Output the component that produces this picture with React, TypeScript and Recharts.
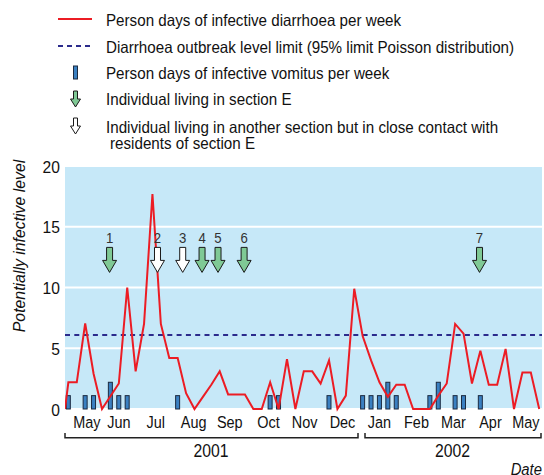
import React from "react";
import {
  ComposedChart, Line, Bar, Scatter, XAxis, YAxis,
  CartesianGrid, ReferenceLine,
} from "recharts";

// weekly values, week 0 = last week of April 2001
const diarrhoea = [
  2.2, 2.2, 7.05, 2.9, 0, 1.05, 2.1, 10, 3.1, 7,
  17.7, 7, 4.2, 4.2, 1.3, 0, 1, 2, 3.1, 1.2,
  1.2, 1.2, 0, 0, 2.2, 0, 4.1, 0, 3.1, 3.1,
  2.1, 4, 0, 1.1, 9.9, 6, 4, 2.2, 1, 2,
  2, 0, 0, 0, 1.1, 2.1, 7, 6.2, 2.1, 4.8,
  2, 2, 4.95, 0, 3, 3, 0,
];
const lineStart = { w: -0.4, d: 0 };

const vomitWeeks  = [0, 2, 3, 5, 6, 7, 13, 24, 25, 31, 35, 36, 37, 38, 39, 43, 44, 46, 47, 49];
const vomitValues = [1.1, 1.1, 1.1, 2.2, 1.1, 1.1, 1.1, 1.1, 1.1, 1.1, 1.1, 1.1, 1.1, 2.2, 1.1, 1.1, 2.2, 1.1, 1.1, 1.1];

const outbreakLimit = 6.1;

const arrowWeeks    = [4.9, 10.6, 13.6, 15.9, 17.8, 20.9, 48.9];
const arrowLabels   = ["1", "2", "3", "4", "5", "6", "7"];
const arrowSectionE = [true, false, false, true, true, true, true];

const monthWeeks  = [2.2, 6.0, 10.4, 14.9, 19.2, 23.8, 28.1, 32.6, 37.0, 41.4, 45.8, 50.2, 54.4];
const monthLabels = ["May", "Jun", "Jul", "Aug", "Sep", "Oct", "Nov", "Dec", "Jan", "Feb", "Mar", "Apr", "May"];

const yTicks = [0, 5, 10, 15, 20];

const FONT = '"Liberation Sans", Arial, sans-serif';
const RED = "#ec1c24";
const NAVY = "#2b2b8c";
const BAR_FILL = "#3a80c2";
const BAR_EDGE = "#1b2a40";
const GREEN = "#7fc995";

const rows = diarrhoea.map((d, i) => {
  const j = vomitWeeks.indexOf(i);
  return { w: i, d, v: j >= 0 ? vomitValues[j] : null };
});
const lineRows = [lineStart, ...rows];
const arrows = arrowWeeks.map((w, i) => ({
  w, y: 13.3, label: arrowLabels[i], green: arrowSectionE[i],
}));

// condensed text: Liberation Sans squeezed horizontally
function NText({ x, y, size = 16.5, sx = 0.92, anchor = "start", italic = false, rotate = 0, fill = "#111", children }: any) {
  const rot = rotate ? ` rotate(${rotate})` : "";
  return (
    <g transform={`translate(${x},${y})${rot} scale(${sx},1)`}>
      <text x={0} y={0} textAnchor={anchor} fontSize={size} fontFamily={FONT}
        fontStyle={italic ? "italic" : "normal"} fill={fill}>
        {children}
      </text>
    </g>
  );
}

function arrowPath(cx: number, top: number, stemW: number, stemH: number, headW: number, headH: number) {
  const s = stemW / 2, h = headW / 2;
  return `M${cx - s},${top} L${cx + s},${top} L${cx + s},${top + stemH} L${cx + h},${top + stemH} ` +
    `L${cx},${top + stemH + headH} L${cx - h},${top + stemH} L${cx - s},${top + stemH} Z`;
}

function ArrowShape(props: any) {
  const { cx, cy, payload } = props;
  return (
    <g>
      <NText x={cx} y={cy - 4} size={15} sx={0.88} anchor="middle" fill="#333">{payload.label}</NText>
      <path d={arrowPath(cx, cy, 6, 13, 14, 12)} fill={payload.green ? GREEN : "#fff"} stroke="#1a1a1a" strokeWidth={1} />
    </g>
  );
}

function VomitBar(props: any) {
  const { x, y, width, height } = props;
  if (!height) return null;
  return <rect x={x + width / 2 - 2} y={y} width={4} height={height} fill={BAR_FILL} stroke={BAR_EDGE} strokeWidth={1} />;
}

function MonthTick({ x, y, payload }: any) {
  return <NText x={x} y={y + 19.3} size={17} sx={0.85} anchor="middle">{monthLabels[monthWeeks.indexOf(payload.value)]}</NText>;
}

function ValueTick({ x, y, payload }: any) {
  return <NText x={x} y={y + 6.5} size={17} sx={0.92} anchor="end">{payload.value}</NText>;
}

function Overlay() {
  return (
    <svg width={544} height={475} style={{ position: "absolute", left: 0, top: 0, pointerEvents: "none" }}>
      <line x1={58} x2={92} y1={19} y2={19} stroke={RED} strokeWidth={2} />
      <line x1={58} x2={92} y1={46} y2={46} stroke={NAVY} strokeWidth={2} strokeDasharray="5 4" />
      <rect x={73.5} y={66} width={4} height={13} fill={BAR_FILL} stroke={BAR_EDGE} strokeWidth={1} />
      <path d={arrowPath(75.5, 91, 4, 8, 10, 8)} fill={GREEN} stroke="#1a1a1a" strokeWidth={1} />
      <path d={arrowPath(75.5, 118, 4, 8, 10, 8)} fill="#fff" stroke="#1a1a1a" strokeWidth={1} />
      <NText x={106} y={26}>Person days of infective diarrhoea per week</NText>
      <NText x={106} y={52.7}>Diarrhoea outbreak level limit (95% limit Poisson distribution)</NText>
      <NText x={106} y={79}>Person days of infective vomitus per week</NText>
      <NText x={106} y={105.3}>Individual living in section E</NText>
      <NText x={106} y={132.7}>Individual living in another section but in close contact with</NText>
      <NText x={110} y={149}>residents of section E</NText>

      <NText x={25} y={246} rotate={-90} sx={0.96} anchor="middle" italic>Potentially infective level</NText>

      <path d="M65,433 V437.7 H358 V433" fill="none" stroke="#222" strokeWidth={1.5} />
      <path d="M365,433 V437.7 H541 V433" fill="none" stroke="#222" strokeWidth={1.5} />
      <NText x={211} y={456.7} size={18} sx={0.875} anchor="middle">2001</NText>
      <NText x={452.5} y={456.7} size={18} sx={0.875} anchor="middle">2002</NText>
      <NText x={542} y={474.5} anchor="end" sx={0.9} italic>Date</NText>
    </svg>
  );
}

export default function App() {
  return (
    <div style={{ position: "absolute", left: 0, top: 0, width: 544, height: 475, background: "#fff" }}>
      <ComposedChart width={544} height={475} data={rows} margin={{ top: 166, right: 2, bottom: 36, left: 35 }}>
        <CartesianGrid vertical={false} stroke="#fff" strokeWidth={2} fill="#c6e8f8" />
        <XAxis
          type="number"
          dataKey="w"
          domain={[-0.4, 56.33]}
          allowDataOverflow
          ticks={monthWeeks}
          interval={0}
          axisLine={false}
          tickLine={false}
          tickSize={0}
          tickMargin={0}
          height={30}
          tick={<MonthTick />}
        />
        <YAxis
          domain={[0, 20]}
          ticks={yTicks}
          axisLine={false}
          tickLine={false}
          tickSize={0}
          tickMargin={5}
          width={30}
          tick={<ValueTick />}
        />
        <ReferenceLine y={outbreakLimit} stroke={NAVY} strokeWidth={2} strokeDasharray="5 4.3" />
        <Bar dataKey="v" barSize={4} shape={<VomitBar />} isAnimationActive={false} />
        <Line data={lineRows} dataKey="d" type="linear" stroke={RED} strokeWidth={2} dot={false} isAnimationActive={false} />
        <Scatter data={arrows} dataKey="y" shape={<ArrowShape />} isAnimationActive={false} />
      </ComposedChart>
      <Overlay />
    </div>
  );
}
